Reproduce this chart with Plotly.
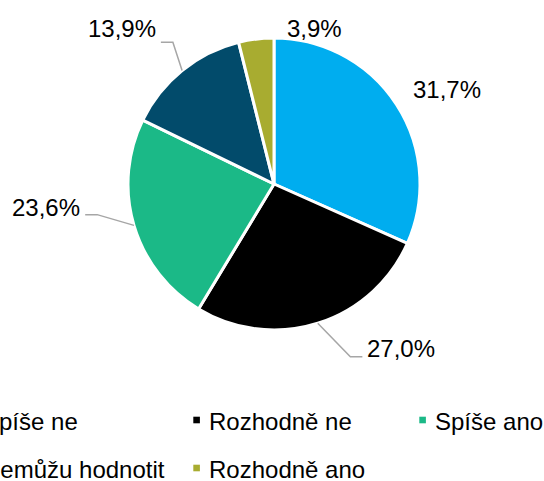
import math

import plotly.graph_objects as go

# Survey answers, clockwise from 12 o'clock.
CATEGORIES = ["Spíše ne", "Rozhodně ne", "Spíše ano", "Nemůžu hodnotit", "Rozhodně ano"]
SHARES = [31.7, 27.0, 23.6, 13.9, 3.9]

COLORS = ["#00ADEF", "#000000", "#1BB987", "#024B6B", "#A8AC30"]
FONT = "Liberation Sans, Arial, sans-serif"
LEADER_COLOR = "#A6A6A6"

W, H = 544, 481
# pie centre and radius in pixels
CX, CY, R = 274, 184, 146

# label placement, relative to where each slice's mid-angle meets the rim:
# (dx, dy of the label's near edge, leader drop below label centre or None)
LABEL_PLACE = [(15.2, -14.6, None), (48.6, 25.0, 8.5), (-52.8, -18.2, 7.5),
               (-25.2, -41.8, 13.4), (29.5, -10.8, None)]

# legend grid: marker left edges (px) per column, row text centres (px)
LEGEND_COLS = [-32.7, 193.3, 419.3]
LEGEND_ROWS = [421.5, 469.5]
MARK = 6.6


def px(x):
    return x / W


def py(y):
    return 1 - y / H


def fmt(v):
    return f"{v:.1f}".replace(".", ",") + "%"


fig = go.Figure(go.Pie(
    labels=CATEGORIES,
    values=SHARES,
    sort=False,
    direction="clockwise",
    rotation=0,
    marker=dict(colors=COLORS, line=dict(color="white", width=3)),
    textinfo="none",
    hoverinfo="label+percent",
    showlegend=False,
    domain=dict(x=[px(CX - R), px(CX + R)], y=[py(CY + R), py(CY - R)]),
))

annotations = []
shapes = []

# data labels with Excel-style elbow leaders
total = sum(SHARES)
start = 0.0
for v, (dx, dy, drop) in zip(SHARES, LABEL_PLACE):
    mid = math.radians((start + v / 2) / total * 360)
    start += v
    ex, ey = CX + R * math.sin(mid), CY - R * math.cos(mid)
    lx, ly = ex + dx, ey + dy
    side = 1 if dx > 0 else -1
    annotations.append(dict(
        x=px(lx), y=py(ly), xref="paper", yref="paper",
        text=fmt(v), showarrow=False, borderpad=0,
        xanchor="left" if side > 0 else "right", yanchor="middle",
        font=dict(family=FONT, size=24, color="#000000"),
    ))
    if drop is not None:
        endx, endy = lx - side * 4, ly + drop
        elbx = endx - side * 12
        shapes.append(dict(
            type="path", xref="paper", yref="paper",
            path=(f"M {px(ex)} {py(ey)} L {px(elbx)} {py(endy)} "
                  f"L {px(endx)} {py(endy)}"),
            line=dict(color=LEADER_COLOR, width=1.5),
        ))

# legend drawn by hand: three columns that spill past the left edge
for i, (name, col) in enumerate(zip(CATEGORIES, COLORS)):
    mx = LEGEND_COLS[i % 3]
    my = LEGEND_ROWS[i // 3]
    mc = my - 1.5
    shapes.append(dict(
        type="rect", xref="paper", yref="paper",
        x0=px(mx), x1=px(mx + MARK), y0=py(mc + MARK / 2), y1=py(mc - MARK / 2),
        fillcolor=col, line=dict(width=0),
    ))
    annotations.append(dict(
        x=px(mx + 14.3), y=py(my), xref="paper", yref="paper",
        text=name, showarrow=False, borderpad=0,
        xanchor="left", yanchor="middle",
        font=dict(family=FONT, size=24, color="#000000"),
    ))

fig.update_layout(
    width=W, height=H,
    margin=dict(l=0, r=0, t=0, b=0, autoexpand=False),
    paper_bgcolor="white",
    plot_bgcolor="white",
    annotations=annotations,
    shapes=shapes,
)

# the default page keeps the browser's 8px body margin; drop it so the
# figure sits flush with the window
fig.write_html("out.html", config={"displayModeBar": False},
               post_script="document.body.style.margin = '0';")
